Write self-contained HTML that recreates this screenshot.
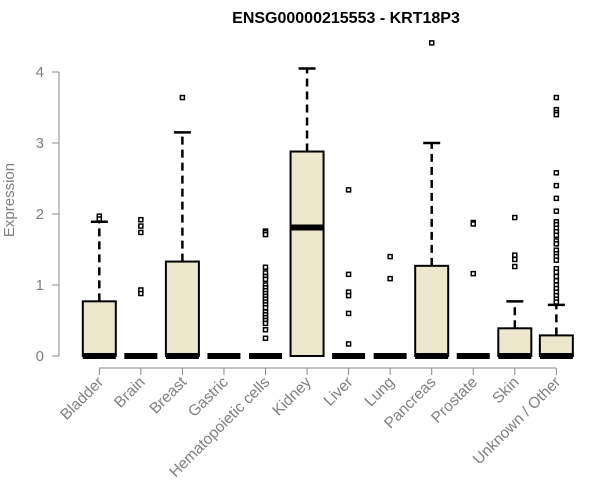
<!DOCTYPE html>
<html><head><meta charset="utf-8"><style>
body{margin:0;background:#fff}
svg{display:block;font-family:"Liberation Sans",Arial,sans-serif}
</style></head><body>
<svg id="chart" width="600" height="500" viewBox="0 0 600 500">
<text x="346" y="23" text-anchor="middle" font-size="16" font-weight="bold">ENSG00000215553 - KRT18P3</text>
<text transform="translate(14,200) rotate(-90)" text-anchor="middle" font-size="15" fill="#808080">Expression</text>
<g id="yaxis"></g>
<g id="xaxis"></g>
<g id="boxes"></g>
</svg>
<script>
const categories=["Bladder","Brain","Breast","Gastric","Hematopoietic cells","Kidney","Liver","Lung","Pancreas","Prostate","Skin","Unknown / Other"];
const q1=[0,0,0,0,0,0,0,0,0,0,0,0];
const medians=[0,0,0,0,0,1.81,0,0,0,0,0,0];
const q3=[0.77,0,1.33,0,0,2.88,0,0,1.27,0,0.39,0.29];
const whiskerHigh=[1.89,0,3.15,0,0,4.05,0,0,3.0,0,0.77,0.72];
const outliers=[
[1.97,1.93],
[1.92,1.83,1.74,0.93,0.88],
[3.64],
[],
[1.76,1.74,1.71,1.25,1.17,1.12,1.08,1.0,0.96,0.92,0.88,0.84,0.8,0.76,0.72,0.68,0.62,0.58,0.54,0.5,0.46,0.37,0.25],
[],
[2.34,1.15,0.9,0.85,0.6,0.17],
[1.40,1.09],
[4.41],
[1.88,1.87,1.86,1.16],
[1.95,1.42,1.36,1.26],
[3.64,3.47,3.43,3.40,2.58,2.4,2.22,2.04,1.89,1.85,1.8,1.75,1.7,1.62,1.58,1.49,1.44,1.4,1.35,1.23,1.18,1.12,1.06,1.0,0.95,0.9,0.85,0.8,0.76]
];
const yTicks=[0,1,2,3,4];
const NS="http://www.w3.org/2000/svg";
function y(v){return 356-v*71;}
function x(i){return 99.3+i*41.55;}
function mk(tag,attrs,parent){const e=document.createElementNS(NS,tag);for(const k in attrs)e.setAttribute(k,attrs[k]);parent.appendChild(e);return e;}
const ya=document.getElementById('yaxis'),xa=document.getElementById('xaxis'),bx=document.getElementById('boxes');
let l=mk('line',{x1:59,x2:59,y1:y(4),y2:y(0),stroke:'#888'},ya);


yTicks.forEach(t=>{
 const tk=mk('line',{x1:52,x2:59,y1:y(t),y2:y(t),stroke:'#888'},ya);
 
 
 const tx=mk('text',{x:44,y:y(t)+5,'text-anchor':'end','font-size':15,fill:'#808080'},ya);
 tx.textContent=t;
 
 
});
l=mk('line',{x1:x(0),x2:x(categories.length-1),y1:368,y2:368,stroke:'#888'},xa);


categories.forEach((c,i)=>{
 const cx=x(i);
 const tk=mk('line',{x1:cx,x2:cx,y1:368,y2:375,stroke:'#888'},xa);
 
 
 const tx=mk('text',{transform:`translate(${cx+5},383) rotate(-45)`,'text-anchor':'end','font-size':15.5,fill:'#808080'},xa);
 tx.textContent=c;
 
 
 const g=mk('g',{},bx);
 
 
 const hw=16.5;
 if(whiskerHigh[i]>q3[i]){
  mk('line',{x1:cx,x2:cx,y1:y(q3[i]),y2:y(whiskerHigh[i]),stroke:'#000','stroke-width':2.5,'stroke-dasharray':'8,5'},g);
  mk('line',{x1:cx-8.5,x2:cx+8.5,y1:y(whiskerHigh[i]),y2:y(whiskerHigh[i]),stroke:'#000','stroke-width':2.5},g);
 }
 if(q3[i]>q1[i]){
  mk('rect',{x:cx-hw,y:y(q3[i]),width:hw*2,height:y(q1[i])-y(q3[i]),fill:'#ede8cd',stroke:'#000','stroke-width':2},g);
 }
 mk('line',{x1:cx-hw,x2:cx+hw,y1:y(medians[i]),y2:y(medians[i]),stroke:'#000','stroke-width':6},g);
 outliers[i].forEach(v=>{
  const p=mk('rect',{x:cx-2,y:y(v)-2,width:4,height:4,fill:'#fff',stroke:'#000','stroke-width':1.5},g);
  
  
 });
});
</script>
</body></html>
